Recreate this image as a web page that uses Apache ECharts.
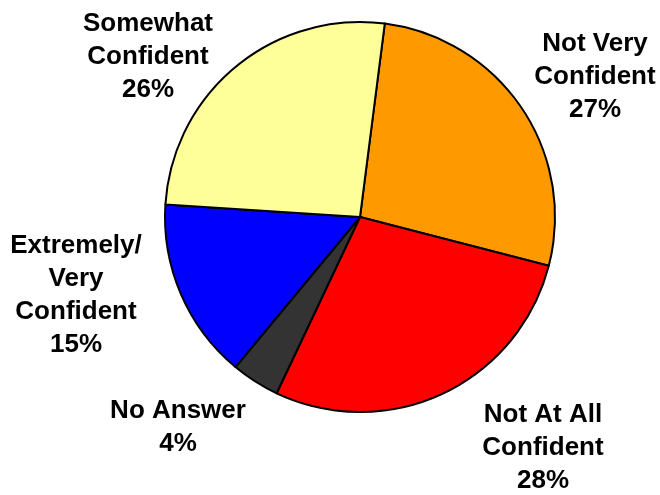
<!DOCTYPE html>
<html>
<head>
<meta charset="utf-8">
<script src="https://cdn.jsdelivr.net/npm/echarts@6/dist/echarts.min.js"></script>
<style>
  html, body { margin: 0; padding: 0; background: #ffffff; }
  #chart { width: 660px; height: 495px; }
</style>
</head>
<body>
<div id="chart"></div>
<script>
// Survey answers, listed clockwise from the top of the pie
const categories = [
  'Not Very\nConfident',
  'Not At All\nConfident',
  'No Answer',
  'Extremely/\nVery\nConfident',
  'Somewhat\nConfident'
];
const percents = [27, 28, 4, 15, 26];
const sliceColors = ['#FF9900', '#FF0000', '#333333', '#0000FF', '#FFFF99'];

// Centre of each label block, in pixels
const labelSpots = [
  [595, 77],
  [543, 448],
  [178, 427],
  [76, 295],
  [148, 57]
];

const chart = echarts.init(document.getElementById('chart'), null, { renderer: 'canvas' });

chart.setOption({
  animation: false,
  backgroundColor: '#ffffff',
  series: [{
    type: 'pie',
    center: [360, 217],
    radius: 195,
    startAngle: 82.7,
    clockwise: true,
    avoidLabelOverlap: false,
    itemStyle: { borderColor: '#000000', borderWidth: 2 },
    label: {
      show: true,
      position: 'outside',
      formatter: '{b}\n{c}%',
      color: '#000000',
      fontFamily: '"Liberation Sans", Arial, sans-serif',
      fontWeight: 'bold',
      fontSize: 26,
      lineHeight: 33,
      align: 'center'
    },
    labelLine: { show: false },
    labelLayout: function (params) {
      const p = labelSpots[params.dataIndex];
      return { x: p[0], y: p[1], align: 'center', verticalAlign: 'middle' };
    },
    emphasis: { disabled: true },
    data: categories.map(function (name, i) {
      return { name: name, value: percents[i], itemStyle: { color: sliceColors[i] } };
    })
  }]
});
</script>
</body>
</html>
